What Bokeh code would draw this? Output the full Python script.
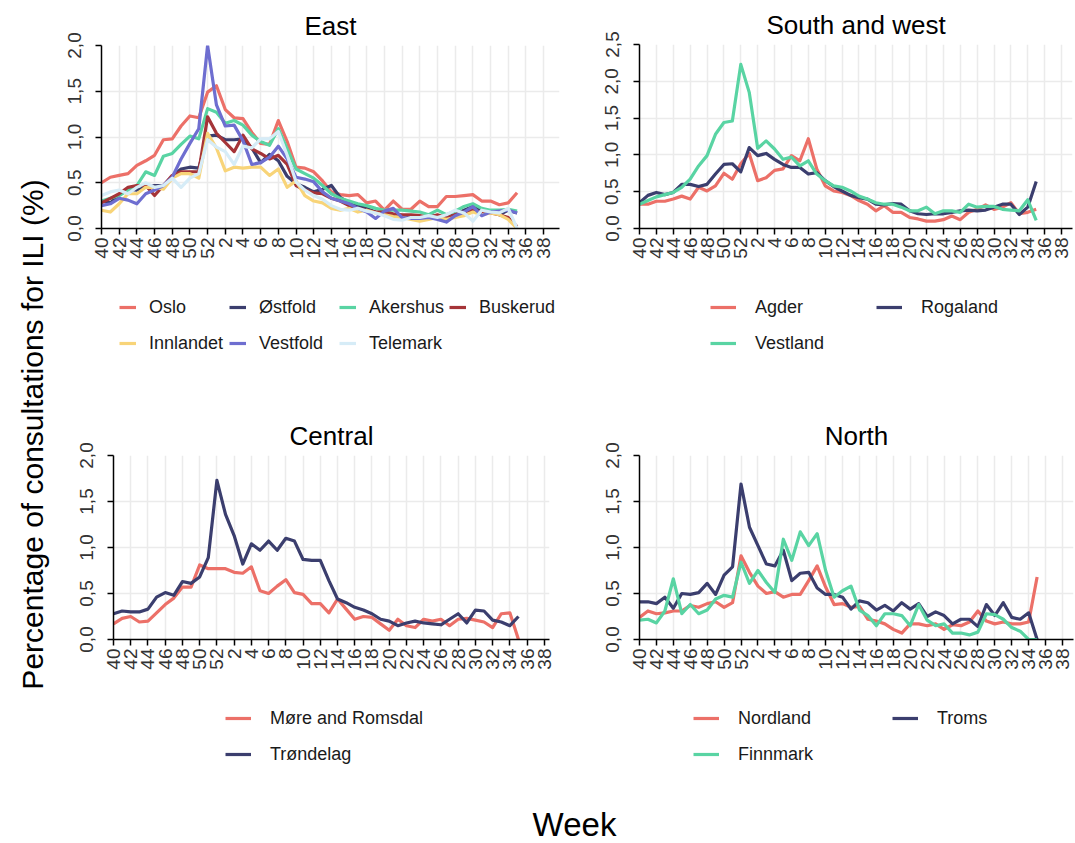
import math
from bokeh.plotting import figure
from bokeh.layouts import row, column
from bokeh.models import Range1d, FixedTicker, CustomJSTickFormatter, Legend, LegendItem
from bokeh.core.properties import value
from bokeh.embed import file_html
from bokeh.resources import INLINE

# ---- data: weekly share of consultations for ILI (%), season week 40 -> week 35 ----
season_weeks = list(range(40, 53)) + list(range(1, 36))
axis_weeks = list(range(40, 53)) + list(range(1, 39))

east_names = ["Oslo", "Østfold", "Akershus", "Buskerud", "Innlandet", "Vestfold", "Telemark"]
oslo = [0.50, 0.56, 0.58, 0.60, 0.69, 0.74, 0.80, 0.97, 0.98, 1.12, 1.23, 1.21,
        1.49, 1.56, 1.30, 1.21, 1.20, 1.05, 0.93, 0.92, 1.18, 0.95, 0.67, 0.66,
        0.62, 0.52, 0.40, 0.37, 0.36, 0.37, 0.28, 0.30, 0.20, 0.30, 0.21, 0.21,
        0.30, 0.24, 0.24, 0.35, 0.35, 0.36, 0.37, 0.30, 0.30, 0.26, 0.28, 0.39]
ostfold = [0.30, 0.28, 0.37, 0.43, 0.42, 0.45, 0.47, 0.47, 0.57, 0.65, 0.67, 0.66,
           1.01, 1.02, 0.97, 0.97, 0.98, 0.88, 0.72, 0.81, 0.74, 0.57, 0.49, 0.45,
           0.40, 0.43, 0.47, 0.34, 0.28, 0.25, 0.22, 0.18, 0.17, 0.15, 0.13, 0.13,
           0.12, 0.14, 0.13, 0.12, 0.15, 0.20, 0.24, 0.20, 0.18, 0.15, 0.20, 0.17]
akershus = [0.30, 0.33, 0.36, 0.42, 0.47, 0.62, 0.58, 0.79, 0.82, 0.92, 1.01, 0.98,
            1.31, 1.27, 1.15, 1.18, 1.13, 1.02, 0.95, 0.91, 1.09, 0.87, 0.65, 0.60,
            0.55, 0.47, 0.38, 0.33, 0.30, 0.27, 0.25, 0.22, 0.20, 0.20, 0.20, 0.19,
            0.18, 0.15, 0.20, 0.15, 0.19, 0.24, 0.27, 0.22, 0.20, 0.20, 0.21, 0.19]
buskerud = [0.28, 0.33, 0.38, 0.45, 0.47, 0.47, 0.36, 0.47, 0.58, 0.62, 0.62, 0.62,
            1.22, 1.04, 0.94, 0.84, 1.02, 0.87, 0.82, 0.76, 0.80, 0.70, 0.47, 0.42,
            0.39, 0.38, 0.33, 0.30, 0.25, 0.22, 0.20, 0.18, 0.18, 0.16, 0.15, 0.15,
            0.14, 0.12, 0.15, 0.12, 0.15, 0.18, 0.20, 0.18, 0.17, 0.15, 0.12, 0.02]
innlandet = [0.20, 0.18, 0.27, 0.38, 0.38, 0.45, 0.45, 0.43, 0.55, 0.60, 0.60, 0.55,
             1.04, 0.88, 0.63, 0.67, 0.66, 0.67, 0.67, 0.58, 0.65, 0.45, 0.52, 0.36,
             0.30, 0.28, 0.22, 0.20, 0.22, 0.18, 0.20, 0.17, 0.15, 0.13, 0.12, 0.10,
             0.08, 0.10, 0.12, 0.10, 0.12, 0.14, 0.18, 0.15, 0.17, 0.15, 0.10, 0.00]
vestfold = [0.25, 0.27, 0.33, 0.31, 0.27, 0.38, 0.42, 0.47, 0.56, 0.76, 0.93, 1.09,
            2.00, 1.35, 1.12, 1.13, 0.96, 0.70, 0.72, 0.78, 0.90, 0.76, 0.56, 0.54,
            0.51, 0.40, 0.33, 0.30, 0.27, 0.22, 0.18, 0.11, 0.19, 0.22, 0.12, 0.11,
            0.11, 0.12, 0.10, 0.07, 0.14, 0.18, 0.24, 0.14, 0.18, 0.19, 0.20, 0.17]
telemark = [0.36, 0.40, 0.42, 0.38, 0.45, 0.50, 0.45, 0.47, 0.55, 0.45, 0.55, 0.60,
            0.97, 0.89, 0.84, 0.70, 0.90, 0.88, 0.98, 0.98, 1.06, 0.80, 0.51, 0.42,
            0.36, 0.32, 0.25, 0.21, 0.20, 0.22, 0.19, 0.17, 0.14, 0.10, 0.09, 0.12,
            0.12, 0.14, 0.12, 0.15, 0.20, 0.17, 0.08, 0.20, 0.18, 0.17, 0.22, 0.00]

south_names = ["Agder", "Rogaland", "Vestland"]
agder = [0.33, 0.33, 0.37, 0.37, 0.40, 0.44, 0.40, 0.56, 0.51, 0.58, 0.75, 0.67,
         0.88, 1.02, 0.65, 0.69, 0.79, 0.81, 0.99, 0.92, 1.22, 0.81, 0.58, 0.51,
         0.49, 0.45, 0.38, 0.33, 0.24, 0.31, 0.22, 0.22, 0.15, 0.13, 0.10, 0.10,
         0.12, 0.17, 0.12, 0.22, 0.26, 0.32, 0.26, 0.29, 0.35, 0.20, 0.22, 0.26]
rogaland = [0.35, 0.45, 0.49, 0.46, 0.49, 0.60, 0.60, 0.57, 0.60, 0.74, 0.87, 0.88,
            0.77, 1.10, 0.99, 1.02, 0.94, 0.87, 0.83, 0.83, 0.74, 0.76, 0.65, 0.57,
            0.51, 0.45, 0.42, 0.40, 0.33, 0.32, 0.34, 0.33, 0.24, 0.20, 0.19, 0.20,
            0.20, 0.22, 0.24, 0.25, 0.24, 0.25, 0.29, 0.33, 0.33, 0.19, 0.29, 0.64]
vestland = [0.33, 0.38, 0.43, 0.46, 0.49, 0.56, 0.67, 0.85, 0.99, 1.28, 1.44, 1.46,
            2.23, 1.85, 1.09, 1.19, 1.08, 0.94, 0.97, 0.85, 0.92, 0.74, 0.65, 0.58,
            0.56, 0.51, 0.44, 0.40, 0.35, 0.33, 0.33, 0.29, 0.24, 0.24, 0.29, 0.20,
            0.24, 0.24, 0.22, 0.33, 0.29, 0.30, 0.30, 0.26, 0.25, 0.24, 0.39, 0.11]

central_names = ["Møre and Romsdal", "Trøndelag"]
more_romsdal = [0.17, 0.23, 0.25, 0.19, 0.20, 0.29, 0.38, 0.45, 0.57, 0.57, 0.81, 0.77,
                0.77, 0.77, 0.73, 0.72, 0.79, 0.53, 0.50, 0.58, 0.65, 0.51, 0.49, 0.39,
                0.39, 0.29, 0.44, 0.33, 0.22, 0.25, 0.24, 0.17, 0.10, 0.22, 0.15, 0.13,
                0.22, 0.20, 0.22, 0.15, 0.22, 0.23, 0.21, 0.19, 0.13, 0.28, 0.29, 0.00]
trondelag = [0.28, 0.31, 0.30, 0.30, 0.33, 0.46, 0.51, 0.48, 0.63, 0.61, 0.68, 0.89,
             1.73, 1.36, 1.13, 0.82, 1.04, 0.97, 1.07, 0.97, 1.10, 1.07, 0.87, 0.86,
             0.86, 0.64, 0.44, 0.40, 0.35, 0.32, 0.28, 0.22, 0.20, 0.15, 0.18, 0.20,
             0.18, 0.17, 0.16, 0.22, 0.28, 0.18, 0.32, 0.31, 0.21, 0.19, 0.15, 0.25]

north_names = ["Nordland", "Troms", "Finnmark"]
nordland = [0.24, 0.31, 0.28, 0.29, 0.31, 0.31, 0.37, 0.35, 0.39, 0.41, 0.35, 0.40,
            0.91, 0.73, 0.58, 0.50, 0.52, 0.46, 0.49, 0.49, 0.64, 0.80, 0.57, 0.38,
            0.39, 0.35, 0.36, 0.22, 0.20, 0.17, 0.11, 0.07, 0.17, 0.17, 0.15, 0.17,
            0.11, 0.16, 0.15, 0.19, 0.31, 0.20, 0.17, 0.19, 0.17, 0.17, 0.19, 0.68]
troms = [0.41, 0.41, 0.39, 0.46, 0.34, 0.50, 0.49, 0.51, 0.61, 0.49, 0.70, 0.79,
         1.69, 1.22, 1.02, 0.82, 0.80, 0.97, 0.64, 0.72, 0.73, 0.56, 0.49, 0.49,
         0.46, 0.33, 0.42, 0.40, 0.32, 0.37, 0.31, 0.40, 0.33, 0.39, 0.25, 0.30,
         0.26, 0.17, 0.22, 0.22, 0.14, 0.38, 0.26, 0.40, 0.24, 0.22, 0.29, 0.00]
finnmark = [0.21, 0.22, 0.18, 0.31, 0.66, 0.28, 0.38, 0.28, 0.32, 0.44, 0.48, 0.46,
            0.84, 0.61, 0.75, 0.62, 0.51, 1.09, 0.86, 1.17, 1.02, 1.15, 0.75, 0.46,
            0.53, 0.58, 0.32, 0.26, 0.15, 0.28, 0.28, 0.26, 0.15, 0.38, 0.21, 0.15,
            0.17, 0.07, 0.07, 0.05, 0.08, 0.28, 0.27, 0.22, 0.13, 0.09, 0.00, 0.00]

# ---- styling ----
FONT = "Liberation Sans"
RED, NAVY, TEAL = "#EC7068", "#3B3E6E", "#59D4A3"
DARKRED, YELLOW, PURPLE, LIGHTBLUE = "#A53438", "#F8D478", "#6E6ED0", "#D6ECF7"
LINE_W = 3.2

x_pos = [axis_weeks.index(w) for w in season_weeks]
x_ticks = list(range(0, len(axis_weeks), 2))
x_labels = {i: str(axis_weeks[i]) for i in x_ticks}


def make_panel(title, series, colors, ymax, xmax, width, height, borders):
    left, right, top, bottom = borders
    p = figure(width=width, height=height, output_backend="svg", toolbar_location=None,
               x_range=Range1d(0, xmax), y_range=Range1d(0, ymax),
               min_border_left=left, min_border_right=right,
               min_border_top=top, min_border_bottom=bottom)
    p.outline_line_color = None
    p.background_fill_color = "white"
    p.border_fill_color = "white"

    p.title.text = title
    p.title.align = "center"
    p.title.text_font = FONT
    p.title.text_font_size = "26px"
    p.title.text_font_style = "normal"
    p.title.text_color = "black"

    p.xaxis.ticker = FixedTicker(ticks=x_ticks)
    p.xaxis.major_label_overrides = x_labels
    p.xaxis.major_label_orientation = math.pi / 2
    yt = [v / 2 for v in range(0, int(ymax * 2) + 1)]
    p.yaxis.ticker = FixedTicker(ticks=yt)
    p.yaxis.formatter = CustomJSTickFormatter(code="return tick.toFixed(1).replace('.', ',');")
    p.yaxis.major_label_orientation = "vertical"
    for ax in (p.xaxis, p.yaxis):
        ax.axis_line_color = "black"
        ax.axis_line_width = 1.5
        ax.major_tick_line_color = "black"
        ax.major_tick_line_width = 1.5
        ax.major_tick_out = 6
        ax.major_tick_in = 0
        ax.minor_tick_line_color = None
        ax.major_label_text_font = FONT
        ax.major_label_text_font_size = "19px"
        ax.major_label_text_color = "#333333"
    p.xaxis.major_label_standoff = 3
    p.yaxis.major_label_standoff = 15

    p.xgrid.ticker = FixedTicker(ticks=x_ticks)
    p.ygrid.ticker = FixedTicker(ticks=yt)
    p.grid.grid_line_color = "#EBEBEB"
    p.grid.grid_line_width = 1.5

    for ys, col in zip(series, colors):
        p.line(x_pos, ys, line_color=col, line_width=LINE_W, line_join="round")
    return p


def make_key(width, height, xmax, names, series, colors, loc, ncols, gw, stand, lw):
    """Key for one panel, drawn in its own strip below the panel."""
    f = figure(width=width, height=height, output_backend="svg", toolbar_location=None,
               x_range=Range1d(0, xmax), y_range=Range1d(0, 3),
               x_axis_type=None, y_axis_type=None, min_border=0)
    f.outline_line_color = None
    f.grid.visible = False
    items = []
    for name, ys, col in zip(names, series, colors):
        r = f.line(x_pos, ys, line_color=col, line_width=LINE_W, visible=False)
        items.append(LegendItem(label=name, renderers=[r]))
    legend = Legend(items=items, location=loc, orientation="horizontal", ncols=ncols,
                    glyph_width=gw, glyph_height=36, label_height=36, label_width=lw,
                    label_standoff=stand, spacing=0, padding=0, margin=0,
                    border_line_alpha=0, background_fill_alpha=0,
                    inactive_fill_alpha=0,
                    label_text_font=FONT, label_text_font_size="18px",
                    label_text_color="#1a1a1a")
    f.add_layout(legend)
    return f


east_series = [oslo, ostfold, akershus, buskerud, innlandet, vestfold, telemark]
east_colors = [RED, NAVY, TEAL, DARKRED, YELLOW, PURPLE, LIGHTBLUE]
south_series = [agder, rogaland, vestland]
central_series = [more_romsdal, trondelag]
north_series = [nordland, troms, finnmark]

east = make_panel("East", east_series, east_colors, 2.0, 51.8, 520, 280, (46, 16, 45, 52))
east_key = make_key(520, 130, 51.8, east_names, east_series, east_colors,
                    (18, 49), 4, 17, 13, 80)

south = make_panel("South and west", south_series, [RED, NAVY, TEAL],
                   2.5, 51.3, 500, 280, (64, 3, 44, 52))
south_key = make_key(500, 130, 51.3, south_names, south_series, [RED, NAVY, TEAL],
                     (71, 49), 2, 26, 19, 121)

central = make_panel("Central", central_series, [RED, NAVY],
                     2.0, 50.6, 520, 280, (58, 26, 45, 51))
central_key = make_key(520, 90, 50.6, central_names, central_series, [RED, NAVY],
                       (112, 8), 1, 26, 19, 180)

north = make_panel("North", north_series, [RED, NAVY, TEAL],
                   2.0, 51.3, 500, 280, (64, 2, 45, 51))
north_key = make_key(500, 90, 51.3, north_names, north_series, [RED, NAVY, TEAL],
                     (54, 8), 2, 26, 19, 154)


def label_fig(width, height, xr, yr):
    f = figure(width=width, height=height, output_backend="svg", toolbar_location=None,
               x_range=xr, y_range=yr, x_axis_type=None, y_axis_type=None,
               min_border=0)
    f.outline_line_color = None
    f.grid.visible = False
    return f


ylab = label_fig(55, 780, Range1d(0, 55), Range1d(780, 0))
ylab.text(x=[32], y=[434], text=["Percentage of consultations for ILI (%)"],
          angle=math.pi / 2, text_align="center", text_baseline="middle",
          text_font=value(FONT), text_font_size="30px", text_color="black")

xlab = label_fig(1075, 63, Range1d(0, 1075), Range1d(63, 0))
xlab.text(x=[574], y=[44], text=["Week"], text_align="center", text_baseline="middle",
          text_font=value(FONT), text_font_size="33px", text_color="black")

panels = column(
    row(column(east, east_key), column(south, south_key)),
    row(column(central, central_key), column(north, north_key)),
)
layout = column(row(ylab, panels), xlab)

open("out.html", "w").write(file_html(layout, INLINE))
